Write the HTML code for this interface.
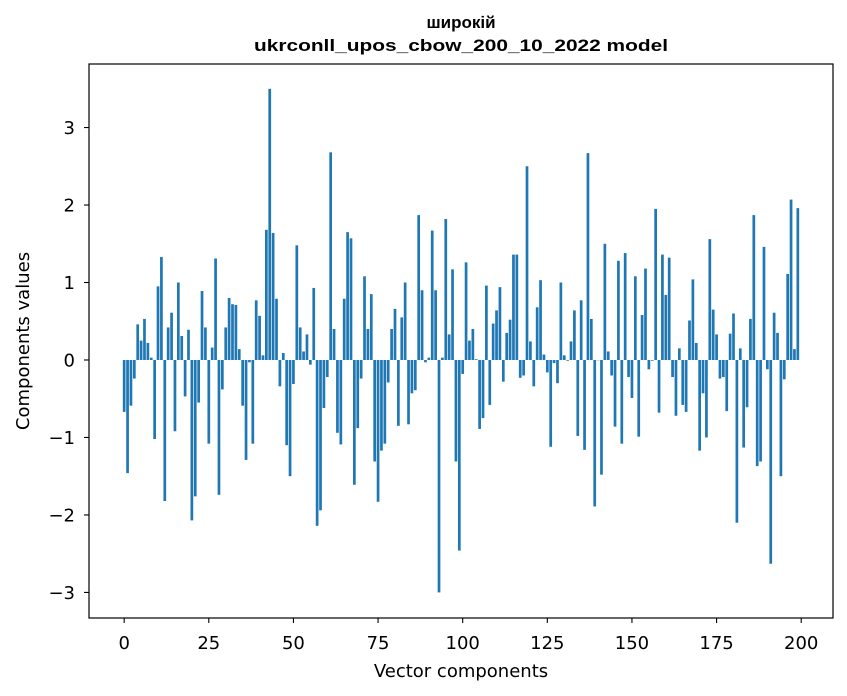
<!DOCTYPE html>
<html><head><meta charset="utf-8"><style>
html,body{margin:0;padding:0;background:#fff;}
svg{display:block;font-family:"DejaVu Sans","Liberation Sans",sans-serif;}
</style></head><body>
<svg id="chart" width="847" height="696" viewBox="0 0 847 696" xmlns="http://www.w3.org/2000/svg">
<rect x="0" y="0" width="847" height="696" fill="#fff"/>
<text x="461" y="28" text-anchor="middle" font-size="17" font-weight="bold" font-family="Liberation Sans, sans-serif">широкій</text>
<text x="461" y="51" text-anchor="middle" font-size="17" font-weight="bold" font-family="Liberation Sans, sans-serif" textLength="414" lengthAdjust="spacingAndGlyphs">ukrconll_upos_cbow_200_10_2022 model</text>
<g id="bars"></g>
<g id="xticks"></g>
<g id="yticks"></g>
<rect x="89" y="64" width="744" height="554" fill="none" stroke="#000" stroke-width="1.2"/>
<text x="461" y="677" text-anchor="middle" font-size="18">Vector components</text>
<text transform="translate(29,341) rotate(-90)" text-anchor="middle" font-size="18">Components values</text>
</svg>
<script>
const values = [
-0.67,-1.46,-0.59,-0.24,0.46,0.25,0.53,0.22,0.03,-1.02,
0.95,1.33,-1.82,0.42,0.61,-0.92,1.0,0.31,-0.47,0.39,
-2.07,-1.76,-0.55,0.89,0.42,-1.08,0.16,1.31,-1.74,-0.38,
0.42,0.8,0.72,0.71,0.14,-0.59,-1.29,-0.03,-1.08,0.77,
0.57,0.06,1.68,3.5,1.64,0.79,-0.34,0.09,-1.1,-1.5,
-0.31,1.48,0.42,0.11,0.33,-0.06,0.93,-2.14,-1.94,-0.62,
-0.22,2.68,0.4,-0.94,-1.09,0.79,1.65,1.57,-1.61,-0.88,
-0.24,1.08,0.4,0.85,-1.31,-1.83,-1.17,-1.08,-0.29,0.4,
0.66,-0.85,0.55,1.0,-0.83,-0.43,-0.39,1.87,0.9,-0.03,
0.03,1.67,0.9,-3.0,0.03,1.82,0.33,1.17,-1.31,-2.46,
-0.18,1.26,0.25,0.4,0.01,-0.89,-0.75,0.96,-0.58,0.47,
0.64,0.94,-0.28,0.35,0.52,1.36,1.36,-0.23,-0.2,2.5,
0.24,-0.34,0.68,1.03,0.07,-0.16,-1.12,-0.04,-0.3,1.0,
0.06,-0.01,0.24,0.64,-0.98,0.77,-1.16,2.67,0.53,-1.89,
0.0,-1.48,1.5,0.11,-0.2,-0.86,1.28,-1.08,1.38,-0.22,
-0.49,1.08,-0.99,0.58,1.18,-0.12,-0.01,1.95,-0.68,1.36,
0.84,1.32,-0.22,-0.72,0.15,-0.58,-0.67,0.51,1.04,0.22,
-1.17,-0.43,-1.0,1.56,0.65,0.33,-0.24,-0.22,-0.66,0.34,
0.6,-2.1,0.15,-1.13,-0.61,0.53,1.87,-1.37,-1.31,1.46,
-0.12,-2.63,0.61,0.35,-1.5,-0.25,1.11,2.07,0.14,1.96
];
const xTickLabels = [0,25,50,75,100,125,150,175,200];
const yTickLabels = [-3,-2,-1,0,1,2,3];
const NS = "http://www.w3.org/2000/svg";
const plotL = 89, plotR = 833, plotT = 64, plotB = 618;
const xMin = -10.39, xMax = 209.39, yMin = -3.33, yMax = 3.82;
function xs(v){ return plotL + (v - xMin) / (xMax - xMin) * (plotR - plotL); }
function ys(v){ return plotB - (v - yMin) / (yMax - yMin) * (plotB - plotT); }
const barsG = document.getElementById('bars');
values.forEach(function(v, i){
  const r = document.createElementNS(NS, 'rect');
  const x0 = xs(i - 0.4), x1 = xs(i + 0.4);
  const y0 = ys(Math.max(v, 0)), y1 = ys(Math.min(v, 0));
  r.setAttribute('x', x0);
  r.setAttribute('width', x1 - x0);
  r.setAttribute('y', y0);
  r.setAttribute('height', Math.max(y1 - y0, 0.3));
  r.setAttribute('fill', '#1f77b4');
  
  
  barsG.appendChild(r);
});
const xg = document.getElementById('xticks');
xTickLabels.forEach(function(t){
  const x = xs(t);
  const l = document.createElementNS(NS, 'line');
  l.setAttribute('x1', x); l.setAttribute('x2', x);
  l.setAttribute('y1', plotB); l.setAttribute('y2', plotB + 5);
  l.setAttribute('stroke', '#000'); l.setAttribute('stroke-width', '1.1');
  
  
  xg.appendChild(l);
  const tx = document.createElementNS(NS, 'text');
  tx.setAttribute('x', x); tx.setAttribute('y', 649);
  tx.setAttribute('text-anchor', 'middle'); tx.setAttribute('font-size', '18');
  tx.textContent = String(t);
  
  
  xg.appendChild(tx);
});
const yg = document.getElementById('yticks');
yTickLabels.forEach(function(t){
  const y = ys(t);
  const l = document.createElementNS(NS, 'line');
  l.setAttribute('x1', plotL - 5); l.setAttribute('x2', plotL);
  l.setAttribute('y1', y); l.setAttribute('y2', y);
  l.setAttribute('stroke', '#000'); l.setAttribute('stroke-width', '1.1');
  
  
  yg.appendChild(l);
  const tx = document.createElementNS(NS, 'text');
  tx.setAttribute('x', plotL - 14); tx.setAttribute('y', y + 6.5);
  tx.setAttribute('text-anchor', 'end'); tx.setAttribute('font-size', '18');
  tx.textContent = t < 0 ? '\u2212' + Math.abs(t) : String(t);
  
  
  yg.appendChild(tx);
});
</script>
</body></html>
